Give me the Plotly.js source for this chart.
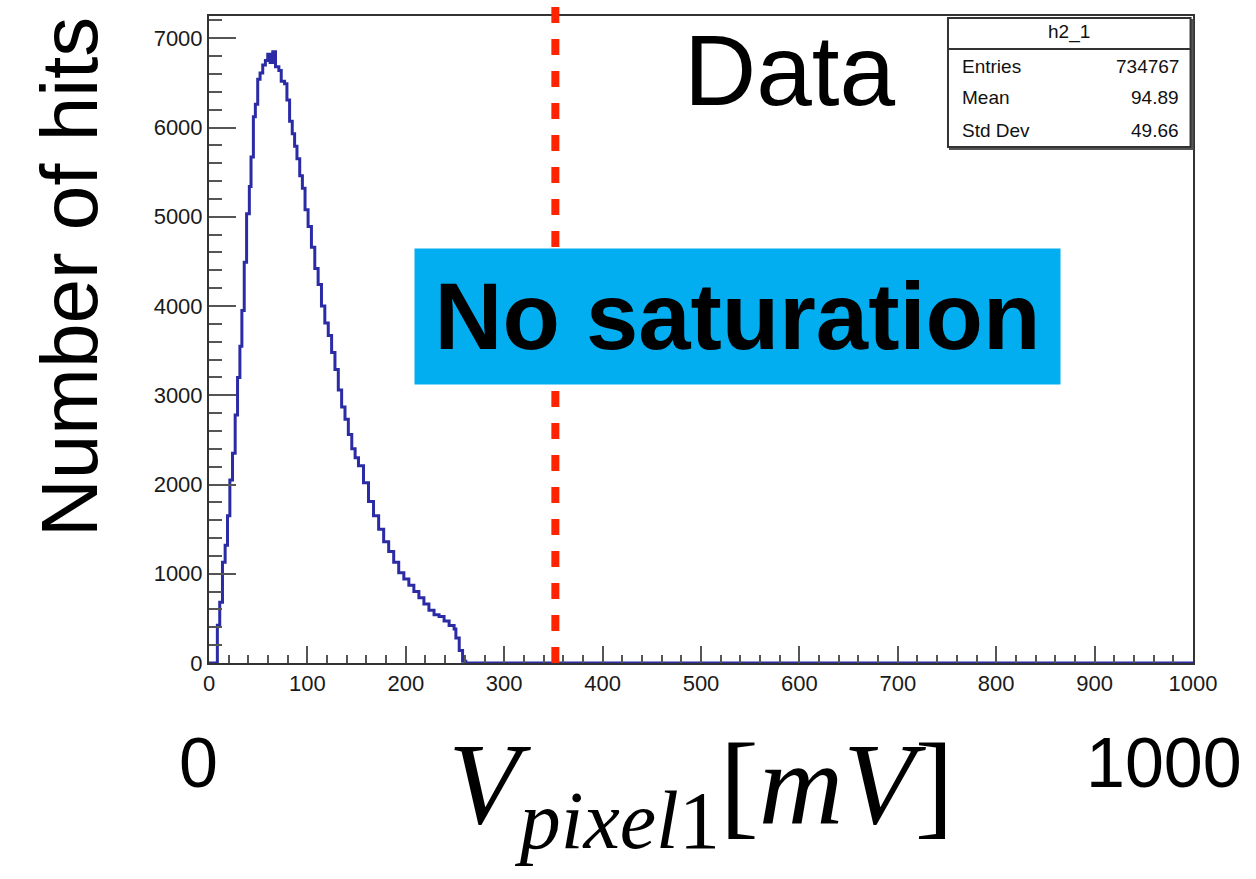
<!DOCTYPE html>
<html>
<head>
<meta charset="utf-8">
<script src="https://cdn.plot.ly/plotly-3.0.1.min.js"></script>
<style>html,body{margin:0;padding:0;background:#fff;}#chart{width:1256px;height:879px;}</style>
</head>
<body>
<div id="chart"></div>
<script>
// Histogram contents (bin position in mV, number of hits)
const voltage = [0, 5.1, 8.5, 10.9, 13.7, 16.4, 18.8, 21.2, 23.9, 26.6, 29.0, 31.4, 33.4, 35.8, 38.2, 41.0, 42.7, 45.1, 47.1, 49.5, 51.9, 54.6, 57.3, 59.7, 62.1, 64.8, 67.6, 71.0, 73.4, 76.8, 79.2, 81.9, 84.6, 87.0, 89.4, 92.2, 94.9, 97.6, 100.7, 104.1, 107.5, 110.9, 114.3, 117.7, 121.2, 124.6, 128.0, 131.4, 134.8, 138.2, 141.6, 145.1, 148.5, 151.9, 157.0, 162.1, 167.2, 172.4, 177.5, 182.6, 187.7, 192.8, 198.0, 203.1, 208.2, 213.3, 218.4, 223.5, 228.7, 233.8, 238.9, 244.0, 249.1, 250.9, 254.3, 257.7, 261.0, 1000];
const hits = [0, 0, 424, 680, 1130, 1320, 1650, 2050, 2350, 2780, 3200, 3550, 3950, 4490, 5035, 5340, 5670, 6120, 6260, 6540, 6610, 6700, 6750, 6820, 6730, 6850, 6680, 6640, 6520, 6490, 6310, 6070, 5930, 5790, 5650, 5460, 5320, 5080, 4890, 4660, 4420, 4240, 4000, 3810, 3670, 3480, 3290, 3060, 2870, 2730, 2560, 2400, 2300, 2210, 2020, 1810, 1650, 1500, 1360, 1250, 1130, 1010, 940, 870, 800, 730, 660, 590, 540, 520, 470, 420, 380, 280, 140, 20, 0, 0];

const statLabels = ["Entries", "Mean", "Std Dev"];
const statValues = ["734767", "94.89", "49.66"];
const histName = "h2_1";
const cutVoltage = 352;
const xRange = [0, 1000];
const yRange = [0, 7250];
const yTitle = "Number of hits";
const xTitle = "<i>V</i><sub><i>pixel</i>1</sub>[<i>mV</i>]";

const sans = "Liberation Sans, Arial, Helvetica, sans-serif";
const serif = "Liberation Serif, Times New Roman, serif";

const trace = {
  x: voltage, y: hits, type: "scatter", mode: "lines",
  line: {shape: "hv", color: "#2b2ba6", width: 3},
  hoverinfo: "x+y", showlegend: false
};

const statRows = [0.9212, 0.8733, 0.8238];
const annotations = [
  {xref: "paper", yref: "paper", x: -0.1413, y: 0.5966, text: yTitle, showarrow: false, textangle: -90,
   font: {family: sans, size: 80, color: "#000"}, xanchor: "center", yanchor: "middle"},
  {xref: "paper", yref: "paper", x: 0.5905, y: 0.9165, text: "Data", showarrow: false,
   font: {family: sans, size: 100, color: "#000"}, xanchor: "center", yanchor: "middle"},
  {xref: "paper", yref: "paper", x: 0.5371, y: 0.5355, text: "<b>No saturation</b>", showarrow: false,
   font: {family: sans, size: 94, color: "#000"}, bgcolor: "#02aeef", width: 645, height: 135,
   xanchor: "center", yanchor: "middle", align: "center", valign: "middle", borderpad: 0},
  {xref: "paper", yref: "paper", x: -0.0102, y: -0.1546, text: "0", showarrow: false,
   font: {family: sans, size: 70, color: "#000"}, xanchor: "center", yanchor: "middle"},
  {xref: "paper", yref: "paper", x: 0.9705, y: -0.1546, text: "1000", showarrow: false,
   font: {family: sans, size: 70, color: "#000"}, xanchor: "center", yanchor: "middle"},
  {xref: "paper", yref: "paper", x: 0.8735, y: 0.9753, text: histName, showarrow: false,
   font: {family: sans, size: 19, color: "#111"}, xanchor: "center", yanchor: "middle"}
];
statLabels.forEach((lab, i) => {
  annotations.push({xref: "paper", yref: "paper", x: 0.7632, y: statRows[i], text: lab, showarrow: false,
    font: {family: sans, size: 19, color: "#111"}, xanchor: "left", yanchor: "middle"});
  annotations.push({xref: "paper", yref: "paper", x: 0.9878, y: statRows[i], text: statValues[i], showarrow: false,
    font: {family: sans, size: 19, color: "#111"}, xanchor: "right", yanchor: "middle"});
});

const shapes = [
  {type: "line", xref: "x", yref: "paper", x0: cutVoltage, x1: cutVoltage, y0: 0, y1: 1.0247,
   line: {color: "#ff2400", width: 8, dash: "16px,16px"}},
  {type: "rect", xref: "paper", yref: "paper", x0: 0.7530, x1: 0.9995, y0: 0.7945, y1: 0.9939,
   line: {color: "#555", width: 2}, fillcolor: "#666"},
  {type: "rect", xref: "paper", yref: "paper", x0: 0.7510, x1: 0.9975, y0: 0.7975, y1: 0.9969,
   line: {color: "#333", width: 2}, fillcolor: "#fff"},
  {type: "line", xref: "paper", yref: "paper", x0: 0.7510, x1: 0.9975, y0: 0.9490, y1: 0.9490,
   line: {color: "#333", width: 2}}
];

const layout = {
  width: 1256, height: 879,
  margin: {l: 209, r: 63, t: 16, b: 216},
  paper_bgcolor: "#fff", plot_bgcolor: "#fff",
  showlegend: false,
  xaxis: {
    range: xRange, dtick: 100, tick0: 0,
    ticks: "inside", ticklen: 17, tickwidth: 2, tickcolor: "#555",
    minor: {dtick: 20, ticks: "inside", ticklen: 8, tickwidth: 2, tickcolor: "#555"},
    showline: true, linecolor: "#333", linewidth: 2, mirror: true,
    showgrid: false, zeroline: false,
    tickfont: {family: sans, size: 22, color: "#1a1a1a"},
    title: {text: xTitle, font: {family: serif, size: 117, color: "#000"}, standoff: 46}
  },
  yaxis: {
    range: yRange, dtick: 1000, tick0: 0,
    ticks: "inside", ticklen: 27, tickwidth: 2, tickcolor: "#555",
    minor: {dtick: 200, ticks: "inside", ticklen: 13, tickwidth: 2, tickcolor: "#555"},
    showline: true, linecolor: "#333", linewidth: 2, mirror: true,
    showgrid: false, zeroline: false,
    tickfont: {family: sans, size: 22, color: "#1a1a1a"}
  },
  shapes: shapes,
  annotations: annotations
};

Plotly.newPlot("chart", [trace], layout, {displayModeBar: false, staticPlot: true});
</script>
</body>
</html>
